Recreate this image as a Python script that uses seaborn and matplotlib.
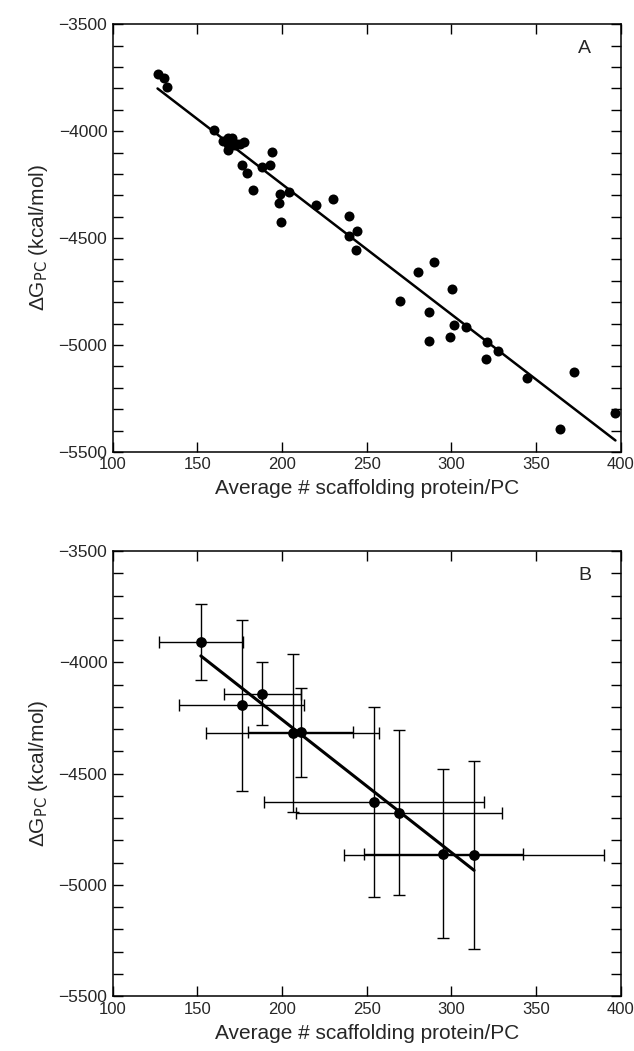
import numpy as np
import pandas as pd
import matplotlib
matplotlib.use("Agg")
import matplotlib.pyplot as plt
from matplotlib.ticker import MultipleLocator
import seaborn as sns

# panel A data
a_x = [126.4, 130.3, 131.9, 159.6, 165.2, 167.9, 168.1, 170.5, 168.1, 170.1,
       172.1, 173.1, 175.0, 177.4, 176.4, 179.1, 182.5, 188.0, 192.6, 194.1,
       197.9, 198.6, 204.0, 199.4, 219.9, 229.8, 239.4, 239.4, 244.1, 243.9,
       280.3, 290.0, 300.6, 269.7, 286.6, 301.8, 308.9, 286.6, 299.1, 321.3,
       327.6, 320.5, 344.4, 372.7, 364.0, 396.9]
a_y = [-3735, -3754, -3793, -3993, -4046, -4058, -4034, -4032, -4090, -4065,
       -4065, -4058, -4058, -4049, -4160, -4196, -4277, -4168, -4160, -4098,
       -4335, -4293, -4287, -4424, -4347, -4319, -4396, -4489, -4466, -4558,
       -4660, -4612, -4738, -4793, -4847, -4905, -4917, -4980, -4961, -4987,
       -5028, -5064, -5153, -5126, -5391, -5319]

# panel B data with error bars
b_x = [152.0, 176.2, 188.4, 206.3, 211.0, 254.2, 269.1, 295.1, 313.4]
b_y = [-3910, -4194, -4141, -4318, -4315, -4628, -4676, -4860, -4866]
b_xerr = [25, 37, 23, 51, 31, 65, 61, 47, 77]
b_yerr = [170, 385, 141, 355, 200, 426, 372, 379, 424]

x_label = "Average # scaffolding protein/PC"
y_label = "ΔG$_{\\rm PC}$ (kcal/mol)"

sns.set_style("ticks")
plt.rcParams["font.family"] = ["Liberation Sans", "DejaVu Sans"]
plt.rcParams["mathtext.default"] = "regular"

fig = plt.figure(figsize=(6.34, 10.51), dpi=100)
axA = fig.add_axes([0.178, 0.570, 0.801, 0.407])
axB = fig.add_axes([0.178, 0.0523, 0.801, 0.4234])

dfA = pd.DataFrame({"x": a_x, "y": a_y})
dfB = pd.DataFrame({"x": b_x, "y": b_y})

#panel A
sns.regplot(data=dfA, x="x", y="y", ax=axA, scatter=False, ci=None,
            color="black", line_kws={"lw": 1.8})
sns.scatterplot(data=dfA, x="x", y="y", ax=axA, color="black", s=52,
                edgecolor="black", linewidth=0, zorder=3)

#panel B
axB.errorbar(b_x, b_y, xerr=b_xerr, yerr=b_yerr, fmt="none", ecolor="black",
             elinewidth=1.0, capsize=4, capthick=1.0, zorder=2)
sns.regplot(data=dfB, x="x", y="y", ax=axB, scatter=False, ci=None,
            color="black", line_kws={"lw": 2.2})
sns.scatterplot(data=dfB, x="x", y="y", ax=axB, color="black", s=60,
                edgecolor="black", linewidth=0, zorder=3)

for ax, tag in [(axA, "A"), (axB, "B")]:
    ax.set_xlim(100, 400)
    ax.set_ylim(-5500, -3500)
    ax.xaxis.set_major_locator(MultipleLocator(50))
    ax.yaxis.set_major_locator(MultipleLocator(500))
    ax.yaxis.set_minor_locator(MultipleLocator(100))
    ax.tick_params(which="both", direction="in", top=True, right=True,
                   length=7, width=1, labelsize=12, color="black")
    ax.tick_params(axis="y", which="major", labelsize=12.5)
    ax.tick_params(which="major", pad=4)
    for s in ax.spines.values():
        s.set_linewidth(1.1)
        s.set_color("black")
    ax.set_xlabel(x_label, fontsize=15, labelpad=5)
    ax.set_ylabel(y_label, fontsize=15, labelpad=6)
    ax.text(0.929, 0.944, tag, transform=ax.transAxes, fontsize=14,
            ha="center", va="center")

fig.savefig("out.png", dpi=100)
